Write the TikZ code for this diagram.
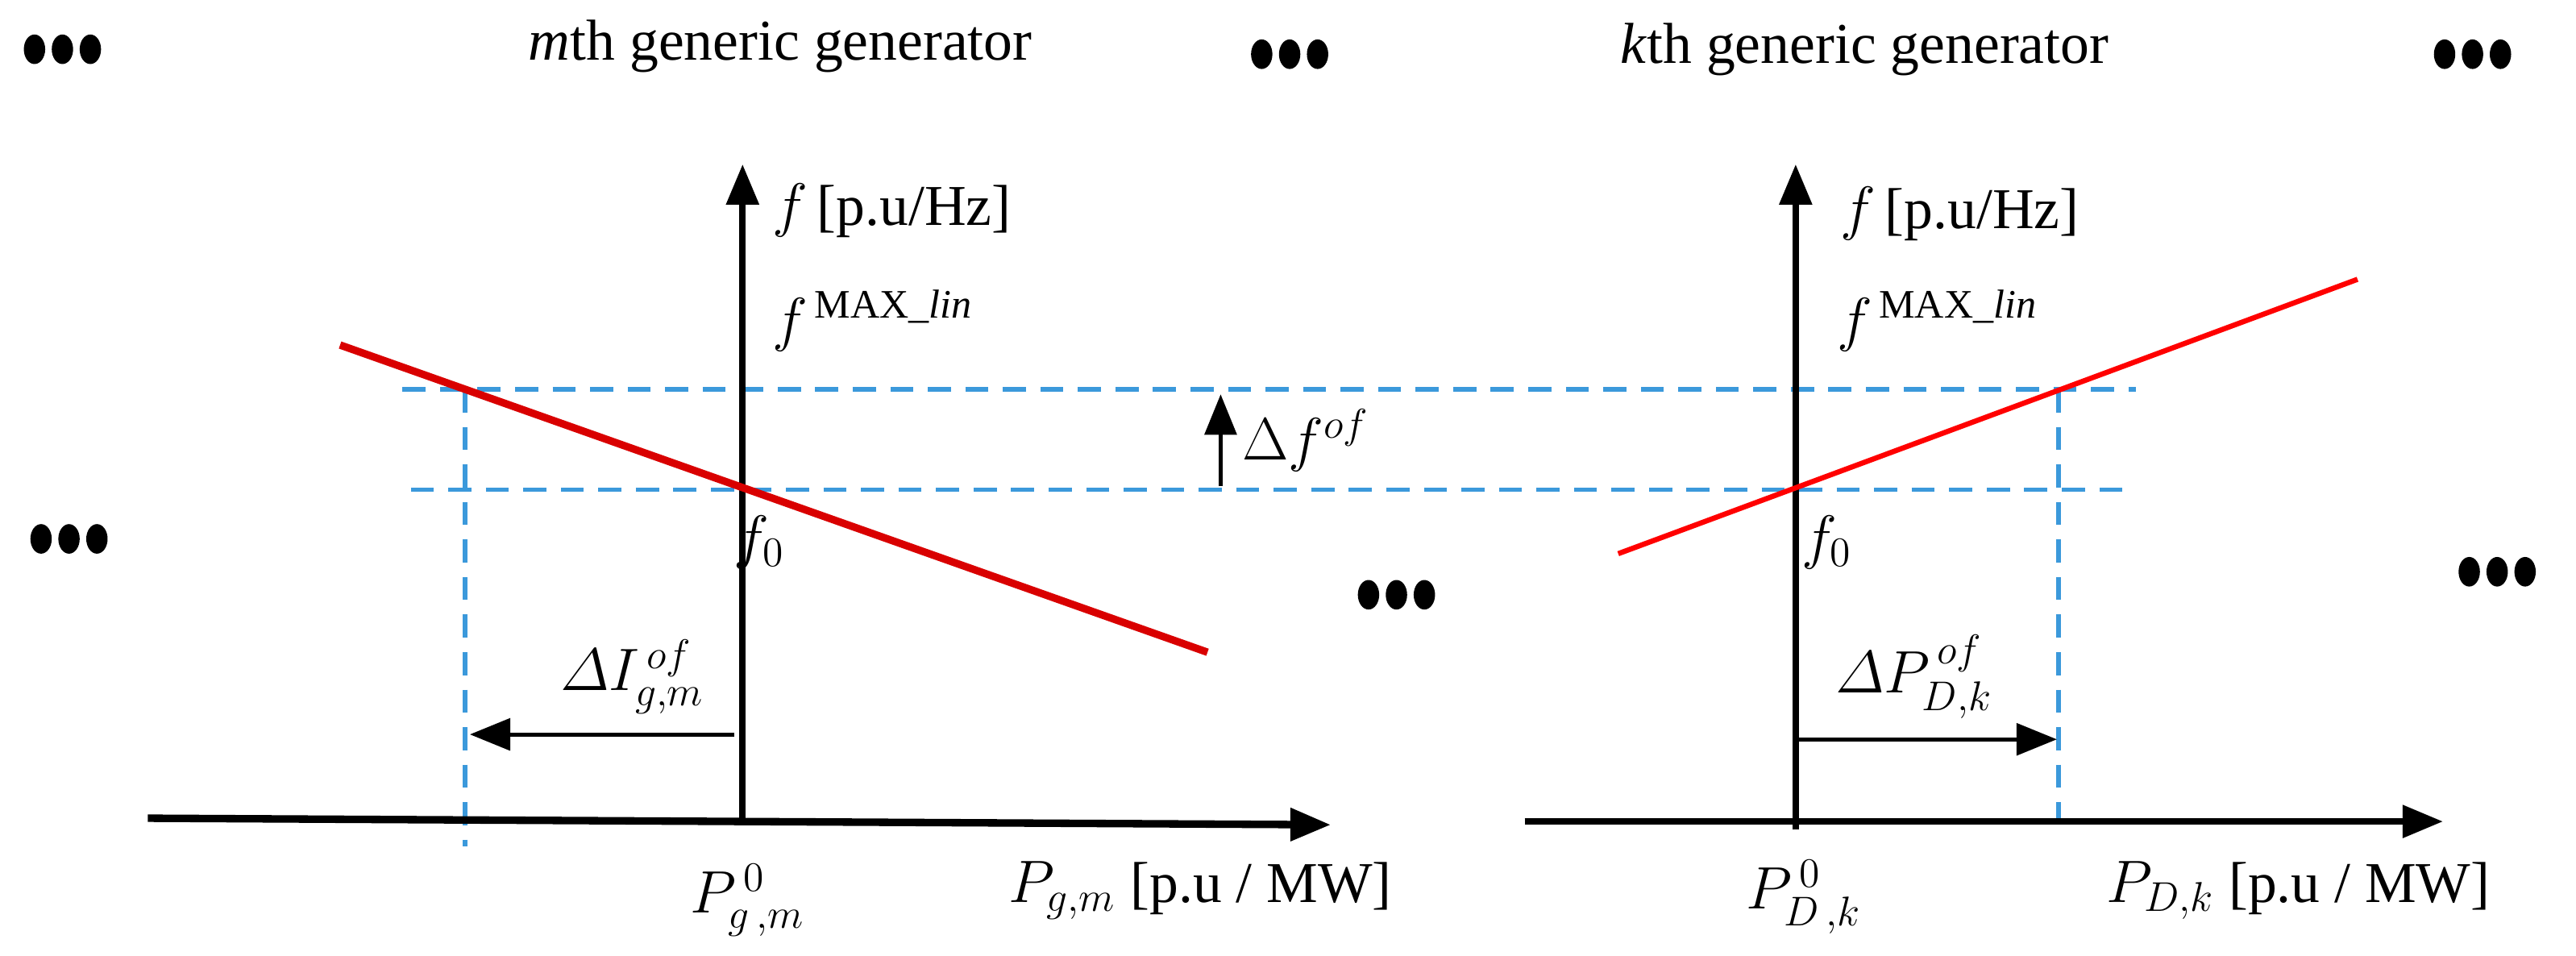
\documentclass[tikz,border=0pt]{standalone}
\usepackage{amsmath}
\usepackage{fontspec}
\setmainfont{Liberation Serif}
\usetikzlibrary{arrows.meta}
\begin{document}
\begin{tikzpicture}[x=0.02cm,y=-0.02cm,
  ax/.style={line width=2.2pt,-{Triangle[length=14pt,width=11pt]}},
  arr/.style={line width=1.4pt,-{Triangle[length=14pt,width=11pt]}},
  dsh/.style={cyan!70!blue!80,line width=1.6pt,dash pattern=on 8pt off 5pt},
  red1/.style={red!85!black,line width=2.6pt},
  red2/.style={red,line width=1.8pt},
  lab/.style={font=\fontsize{20}{24}\selectfont,inner sep=1pt}]
\useasboundingbox (0,0) rectangle (1568,581.5);
% titles and dots
\node[lab] (t1) at (475,28) {\textit{m}th generic generator};
\node[lab] (t2) at (1135,30) {\textit{k}th generic generator};
\foreach \n/\x/\y in {d1/38/30,d2/785/33,d3/1505/33,d4/42/328,d5/850/362,d6/1520/348}
  \node (\n) at (\x,\y) {\tikz[x=1cm,y=1cm]{\foreach \i in {0,0.34,0.68}\fill (\i,0) ellipse (0.13 and 0.18);}};
% left chart
\coordinate (lo) at (452,500);
\coordinate (lyt) at (452,100);
\coordinate (lx0) at (90,498);
\coordinate (lxt) at (810,502);
\coordinate (dl1) at (245,237); \coordinate (dr1) at (1300,237);
\coordinate (dl2) at (250,298); \coordinate (dr2) at (1295,298);
\coordinate (lv1) at (283,237); \coordinate (lv2) at (283,515);
\draw[dsh] (dl1) -- (dr1);
\draw[dsh] (dl2) -- (dr2);
\draw[dsh] (lv1) -- (lv2);
\draw[ax] (lo) -- (lyt);
\draw[line width=2.6pt,-{Triangle[length=14pt,width=11pt]}] (lx0) -- (lxt);
\coordinate (r1a) at (207,210); \coordinate (r1b) at (735,397);
\draw[red1] (r1a) -- (r1b);
\coordinate (ia) at (447,447); \coordinate (ib) at (286,447);
\draw[arr] (ia) -- (ib);
\coordinate (fa) at (743,296); \coordinate (fb) at (743,240);
\draw[arr] (fa) -- (fb);
\node[lab,anchor=west] (ly) at (468,128) {$f$\,[p.u/Hz]};
\node[lab,anchor=west] (lmax) at (468,195) {$f^{\,\mathrm{MAX\_}\mathit{lin}}$};
\node[lab] (lf0) at (462,330) {$f_0$};
\node[lab] (lI) at (385,412) {$\varDelta I_{g,m}^{\,of}$};
\node[lab,anchor=west] (lfof) at (754,268) {$\Delta f^{of}$};
\node[lab] (lp0) at (455,548) {$P_{g\,,m}^{\,0}$};
\node[lab,anchor=west] (lpx) at (612,542) {$P_{g,m}$ [p.u / MW]};
% right chart
\coordinate (ro) at (1093,505);
\coordinate (ryt) at (1093,100);
\coordinate (rx0) at (928,500);
\coordinate (rxt) at (1487,500);
\coordinate (rv1) at (1253,237); \coordinate (rv2) at (1253,500);
\draw[dsh] (rv1) -- (rv2);
\draw[ax] (ro) -- (ryt);
\draw[ax] (rx0) -- (rxt);
\coordinate (r2a) at (985,337); \coordinate (r2b) at (1435,170);
\draw[red2] (r2a) -- (r2b);
\coordinate (pa) at (1092,450); \coordinate (pb) at (1252,450);
\draw[arr] (pa) -- (pb);
\node[lab,anchor=west] (ry) at (1118,130) {$f$\,[p.u/Hz]};
\node[lab,anchor=west] (rmax) at (1116,195) {$f^{\,\mathrm{MAX\_}\mathit{lin}}$};
\node[lab] (rf0) at (1112,330) {$f_0$};
\node[lab] (rP) at (1165,412) {$\varDelta P_{D,k}^{\,of}$};
\node[lab] (rp0) at (1098,546) {$P_{D\,,k}^{\,0}$};
\node[lab,anchor=west] (rpx) at (1280,542) {$P_{D,k}$ [p.u / MW]};
\end{tikzpicture}
\end{document}
